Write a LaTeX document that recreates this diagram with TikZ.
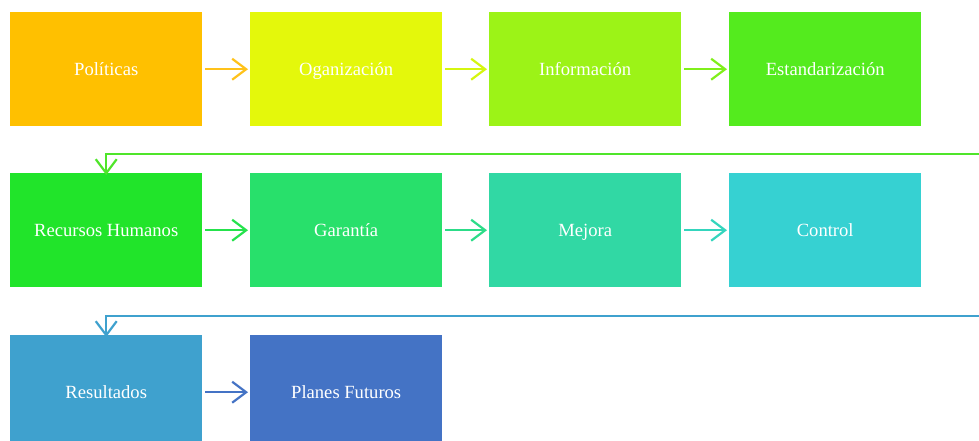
\documentclass[tikz,border=0pt]{standalone}
\usepackage{fontspec}
\setmainfont{Liberation Serif}
\newfontfamily\boxfont{Liberation Serif}
\usetikzlibrary{arrows.meta}
\definecolor{c1}{HTML}{FFC000}
\definecolor{c2}{HTML}{E4F80B}
\definecolor{c3}{HTML}{9CF317}
\definecolor{c4}{HTML}{54EB1E}
\definecolor{c5}{HTML}{21E42A}
\definecolor{c6}{HTML}{28E06B}
\definecolor{c7}{HTML}{31D8A4}
\definecolor{c8}{HTML}{36D1D2}
\definecolor{c9}{HTML}{3FA1CE}
\definecolor{c10}{HTML}{4473C5}
\definecolor{a1}{HTML}{FFC21A}
\definecolor{a2}{HTML}{D5F60F}
\definecolor{a3}{HTML}{80EF1B}
\definecolor{a4}{HTML}{4FE52A}
\definecolor{a5}{HTML}{25E24C}
\definecolor{a6}{HTML}{2CDC88}
\definecolor{a7}{HTML}{34D5BD}
\definecolor{a8}{HTML}{3FA1CE}
\definecolor{a9}{HTML}{4473C5}
\tikzset{
  box/.style={minimum width=192pt,minimum height=114pt,inner sep=0pt,
    text=white,font=\boxfont\fontsize{18.6}{22}\selectfont,
    text height=15pt,text depth=2pt,anchor=north west},
  conn/.style={line width=2.2pt,-{Straight Barb[length=14pt,width=21pt]}}
}
\begin{document}
\begin{tikzpicture}[x=1pt,y=-1pt]
\useasboundingbox (0,0) rectangle (979,441);
\node[box,fill=c1] (n1) at (10,12) {Políticas};
\node[box,fill=c2] (n2) at (250,12) {Oganización};
\node[box,fill=c3] (n3) at (489,12) {Información};
\node[box,fill=c4] (n4) at (729,12) {Estandarización};
\node[box,fill=c5] (n5) at (10,173) {Recursos Humanos};
\node[box,fill=c6] (n6) at (250,173) {Garantía};
\node[box,fill=c7] (n7) at (489,173) {Mejora};
\node[box,fill=c8] (n8) at (729,173) {Control};
\node[box,fill=c9] (n9) at (10,335) {Resultados};
\node[box,fill=c10] (n10) at (250,335) {Planes Futuros};
\coordinate (w1) at (980,154);
\coordinate (w2) at (980,316);
\draw[conn,a1] ([xshift=3pt]n1.east) -- ([xshift=-2pt]n2.west);
\draw[conn,a2] ([xshift=3pt]n2.east) -- ([xshift=-2pt]n3.west);
\draw[conn,a3] ([xshift=3pt]n3.east) -- ([xshift=-2pt]n4.west);
\draw[conn,a5] ([xshift=3pt]n5.east) -- ([xshift=-2pt]n6.west);
\draw[conn,a6] ([xshift=3pt]n6.east) -- ([xshift=-2pt]n7.west);
\draw[conn,a7] ([xshift=3pt]n7.east) -- ([xshift=-2pt]n8.west);
\draw[conn,a9] ([xshift=3pt]n9.east) -- ([xshift=-2pt]n10.west);
\draw[conn,a4] (w1) -- (w1 -| n5.north) -- ([yshift=-2pt]n5.north);
\draw[conn,a8] (w2) -- (w2 -| n9.north) -- ([yshift=-2pt]n9.north);
\end{tikzpicture}
\end{document}
